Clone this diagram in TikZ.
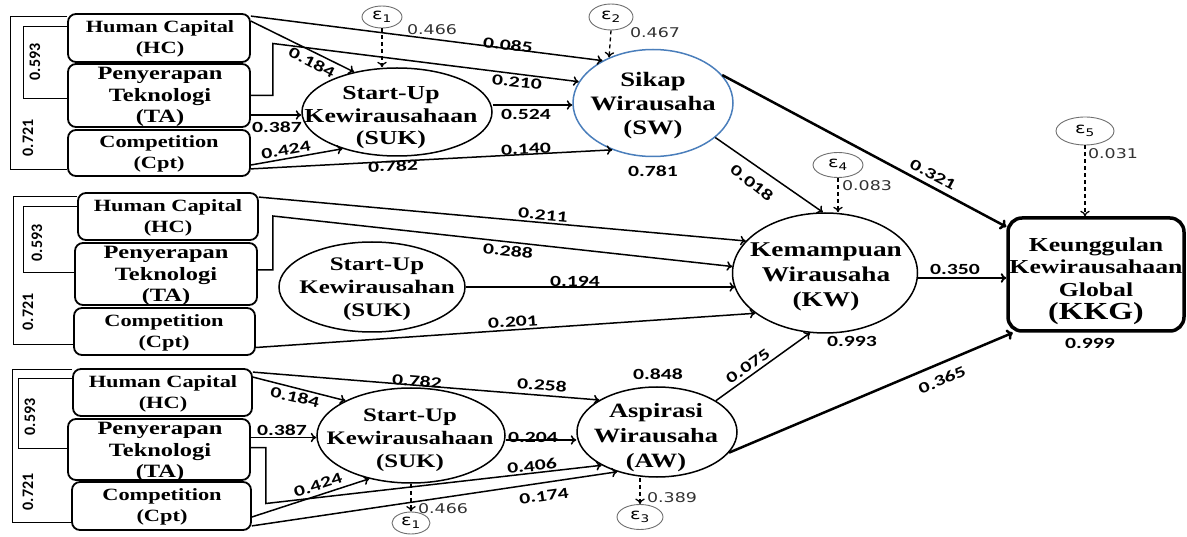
\documentclass[tikz,border=0pt]{standalone}
\usepackage{fontspec}
\setmainfont{Liberation Serif}
\newfontfamily\nf[FakeStretch=1.3]{Liberation Serif}
\newfontfamily\numf[FakeStretch=1.4]{Carlito}
\newfontfamily\resf[FakeStretch=1.3]{DejaVu Sans}
\newfontfamily\brf{Carlito}
\usetikzlibrary{shapes.geometric,arrows.meta,calc}
\definecolor{swblue}{RGB}{74,126,187}
\definecolor{resgray}{RGB}{110,110,110}
\definecolor{numgray}{RGB}{50,50,50}
\begin{document}
\begin{tikzpicture}[x=1pt,y=-1pt,
  box/.style={draw,line width=1.8pt,rounded corners=8pt,inner sep=0pt},
  lat/.style={draw,ellipse,line width=1.5pt,inner sep=0pt},
  res/.style={draw=resgray,ellipse,line width=0.9pt,inner sep=0pt,font=\resf\fontsize{15}{15}\selectfont},
  btxt/.style={align=center,inner sep=0pt,font=\nf\bfseries\fontsize{17.2}{21.5}\selectfont},
  ttxt/.style={align=center,inner sep=0pt,font=\nf\bfseries\fontsize{18.8}{21.5}\selectfont},
  etxt/.style={align=center,inner sep=0pt,font=\nf\bfseries\fontsize{19.8}{22.5}\selectfont},
  coef/.style={inner sep=0pt,font=\numf\bfseries\fontsize{15.5}{16}\selectfont},
  resv/.style={inner sep=0pt,text=numgray,font=\resf\fontsize{13.4}{14}\selectfont},
  brl/.style={inner sep=0pt,rotate=90,font=\brf\bfseries\fontsize{16}{16}\selectfont},
  bracket/.style={line width=1pt},
  arr/.style={line width=1.5pt,-{To[length=5.5pt,width=9.5pt]}},
  thickarr/.style={line width=2.5pt,-{To[length=6pt,width=11pt]}},
  errpath/.style={line width=1.3pt,dash pattern=on 4pt off 3pt,-{To[length=5.5pt,width=9.5pt]}},
]
\useasboundingbox (0,0) rectangle (1187,537);

% ---------------- top group ----------------
\node[box,minimum width=182pt,minimum height=48pt] (hc1) at (159,38) {};
\node[btxt] (hc1t) at (160,39) {Human Capital\\(HC)};
\node[box,minimum width=182pt,minimum height=63pt] (ta1) at (159,95.5) {};
\node[ttxt] (ta1t) at (160,97) {Penyerapan\\Teknologi\\(TA)};
\node[box,minimum width=182pt,minimum height=46pt] (cpt1) at (159,153) {};
\node[btxt] (cpt1t) at (159,154) {Competition\\(Cpt)};

\node[lat,minimum width=190pt,minimum height=88pt] (suk1) at (397,112) {};
\node[etxt] (suk1t) at (391,118) {Start-Up\\Kewirausahaan\\(SUK)};
\node[lat,draw=swblue,minimum width=160pt,minimum height=107pt] (sw) at (653,103) {};
\node[etxt,font=\nf\bfseries\fontsize{20.5}{24}\selectfont] (swt) at (653,106) {Sikap\\Wirausaha\\(SW)};
\node[res,minimum width=40pt,minimum height=22pt] (e1a) at (382,17) {ε\textsubscript{1}};
\node[res,minimum width=44pt,minimum height=26pt] (e2) at (611,17) {ε\textsubscript{2}};

\coordinate (o1t) at (10,17);  \coordinate (o1b) at (10,170);
\coordinate (i1t) at (23,27);  \coordinate (i1b) at (23,99);
\draw[bracket] (hc1.west |- o1t) -- (o1t) -- (o1b) -- (cpt1.west |- o1b);
\draw[bracket] (hc1.west |- i1t) -- (i1t) -- (i1b) -- (ta1.west |- i1b);
\node[brl] (b1a) at (35,62) {0.593};
\node[brl] (b1b) at (28,138) {0.721};

% ---------------- middle group ----------------
\node[box,minimum width=180pt,minimum height=47pt] (hc2) at (168,216.5) {};
\node[btxt] (hc2t) at (168,218) {Human Capital\\(HC)};
\node[box,minimum width=182pt,minimum height=62pt] (ta2) at (166,274) {};
\node[ttxt] (ta2t) at (166,276) {Penyerapan\\Teknologi\\(TA)};
\node[box,minimum width=181pt,minimum height=47pt] (cpt2) at (164.5,331.5) {};
\node[btxt] (cpt2t) at (164,333) {Competition\\(Cpt)};

\node[lat,minimum width=186pt,minimum height=90pt] (suk2) at (372,287) {};
\node[etxt,font=\nf\bfseries\fontsize{19.2}{23}\selectfont] (suk2t) at (377,289) {Start-Up\\Kewirausahan\\(SUK)};
\node[lat,minimum width=185pt,minimum height=120pt] (kw) at (825,273) {};
\node[etxt,font=\nf\bfseries\fontsize{21}{25}\selectfont] (kwt) at (826,277) {Kemampuan\\Wirausaha\\(KW)};
\node[res,minimum width=50pt,minimum height=25pt] (e4) at (838,165) {ε\textsubscript{4}};

\node[box,line width=3.5pt,rounded corners=14pt,minimum width=176pt,minimum height=113pt] (kkg) at (1096,274.5) {};
\node[etxt] (kkgt) at (1096,281) {Keunggulan\\Kewirausahaan\\Global\\[1pt]{\fontsize{24.5}{27}\selectfont(KKG)}};
\node[res,minimum width=58pt,minimum height=28pt] (e5) at (1085,131) {ε\textsubscript{5}};

\coordinate (o2t) at (13,197);  \coordinate (o2b) at (13,345);
\coordinate (i2t) at (23,207);  \coordinate (i2b) at (23,273);
\draw[bracket] (hc2.west |- o2t) -- (o2t) -- (o2b) -- (cpt2.west |- o2b);
\draw[bracket] (hc2.west |- i2t) -- (i2t) -- (i2b) -- (ta2.west |- i2b);
\node[brl] (b2a) at (37,243) {0.593};
\node[brl] (b2b) at (28,312) {0.721};

% ---------------- bottom group ----------------
\node[box,minimum width=179pt,minimum height=47pt] (hc3) at (162.5,392.5) {};
\node[btxt] (hc3t) at (163,394) {Human Capital\\(HC)};
\node[box,minimum width=182pt,minimum height=61pt] (ta3) at (159,449.5) {};
\node[ttxt] (ta3t) at (160,452) {Penyerapan\\Teknologi\\(TA)};
\node[box,minimum width=179pt,minimum height=48pt] (cpt3) at (161.5,506) {};
\node[btxt] (cpt3t) at (162,507) {Competition\\(Cpt)};

\node[lat,minimum width=188pt,minimum height=95pt] (suk3) at (411,435.5) {};
\node[etxt,font=\nf\bfseries\fontsize{19.1}{23}\selectfont] (suk3t) at (410,440) {Start-Up\\Kewirausahaan\\(SUK)};
\node[lat,minimum width=160pt,minimum height=90pt] (aw) at (657,432) {};
\node[etxt,font=\nf\bfseries\fontsize{20.3}{25}\selectfont] (awt) at (656,438) {Aspirasi\\Wirausaha\\(AW)};
\node[res,minimum width=38pt,minimum height=22pt] (e1b) at (411,523) {ε\textsubscript{1}};
\node[res,minimum width=46pt,minimum height=25pt] (e3) at (640,517) {ε\textsubscript{3}};

\coordinate (o3t) at (12,370);  \coordinate (o3b) at (12,522);
\coordinate (i3t) at (18,379);  \coordinate (i3b) at (18,448);
\draw[bracket] (hc3.west |- o3t) -- (o3t) -- (o3b) -- (cpt3.west |- o3b);
\draw[bracket] (hc3.west |- i3t) -- (i3t) -- (i3b) -- (ta3.west |- i3b);
\node[brl] (b3a) at (30,417) {0.593};
\node[brl] (b3b) at (28,492) {0.721};

% ---------------- connectors: top ----------------
\draw[arr] ($(hc1.north east)+(0,3)$) -- (sw.140);
\draw[arr] ($(hc1.north east)+(0,8)$) -- (suk1.137);
\draw[arr] (ta1.east) -- ++(22,0) -- ++(0,-52) -- (sw.164);
\coordinate (p1) at ($(ta1.east)+(0,19.5)$);
\draw[arr] (p1) -- (p1 -| suk1.west);
\draw[arr] ($(cpt1.east)+(0,12)$) -- (suk1.214);
\draw[arr] ($(cpt1.south east)+(0,-8)$) -- (sw.229);
\coordinate (p2) at ($(suk1.east)+(0,-7)$);
\draw[arr] (p2) -- (p2 -| sw.west);
\draw[errpath] (e1a.south) -- (e1a.south |- suk1.north);
\draw[errpath] (e2.south) -- (sw.134);

% ---------------- connectors: middle ----------------
\draw[arr] ($(hc2.north east)+(0,5)$) -- (kw.158);
\draw[arr] ($(ta2.east)+(0,-4)$) -- ++(15,0) -- ++(0,-54) -- (kw.176);
\draw[arr] (suk2.east) -- (suk2.east -| kw.190);
\draw[arr] ($(cpt2.east)+(0,16)$) -- (kw.210);

% ---------------- connectors: bottom ----------------
\draw[arr] ($(hc3.north east)+(0,4)$) -- (aw.151);
\draw[arr] ($(hc3.north east)+(0,9)$) -- (suk3.152);
\coordinate (p3) at ($(ta3.east)+(0,-12)$);
\draw[arr] (p3) -- (p3 -| suk3.west);
\draw[arr] ($(ta3.east)+(0,-2)$) -- ++(15,0) -- ++(0,56) -- (aw.211);
\draw[arr] ($(cpt3.east)+(0,11)$) -- (suk3.226);
\draw[arr] ($(cpt3.south east)+(0,-5)$) -- (aw.225);
\coordinate (p4) at ($(suk3.east)+(0,4.5)$);
\draw[arr] (p4) -- (p4 -| aw.west);
\draw[errpath] (suk3.south) -- (e1b.north);
\draw[errpath] (e3.north |- aw.south) -- (e3.north);

% ---------------- connectors: right ----------------
\draw[thickarr] (sw.22) -- (kkg.152);
\draw[arr] (sw.-29) -- (kw.92);
\coordinate (p5) at ($(kw.east)+(0,5)$);
\draw[arr,line width=1.9pt] (p5) -- (p5 -| kkg.west);
\draw[arr] (aw.28) -- (kw.256);
\draw[thickarr] (aw.-16) -- (kkg.215);
\draw[errpath] (e4.south) -- (e4.south |- kw.north);
\draw[errpath] (e5.south) -- (e5.south |- kkg.north);

% ---------------- coefficient labels ----------------
\node[coef,rotate=-7] (l085) at (508,45) {0.085};
\node[coef,rotate=-27] (l184a) at (312,62) {0.184};
\node[coef,rotate=-6] (l210) at (517,82) {0.210};
\node[coef] (l387a) at (277,127) {0.387};
\node[coef,rotate=10] (l424a) at (286,150) {0.424};
\node[coef] (l524) at (526,114) {0.524};
\node[coef,rotate=2.5] (l140) at (526,149) {0.140};
\node[coef,rotate=2] (l782a) at (393,166) {0.782};
\node[coef] (l781) at (653,171) {0.781};
\node[coef,rotate=-5] (l211) at (543,215) {0.211};
\node[coef,rotate=-6] (l288) at (508,251) {0.288};
\node[coef] (l194) at (575,281) {0.194};
\node[coef,rotate=3.8] (l201) at (513,322) {0.201};
\node[coef,rotate=-4.5] (l258) at (542,385) {0.258};
\node[coef,rotate=-4.5] (l782b) at (417,381) {0.782};
\node[coef,rotate=-13] (l184b) at (295,397) {0.184};
\node[coef] (l387b) at (282,430) {0.387};
\node[coef] (l204) at (533,437) {0.204};
\node[coef,rotate=6] (l406) at (532,466) {0.406};
\node[coef,rotate=18] (l424b) at (318,485) {0.424};
\node[coef,rotate=8] (l174) at (544,496) {0.174};
\node[coef] (l848) at (658,374) {0.848};
\node[coef,rotate=35] (l075) at (748,366) {0.075};
\node[coef] (l993) at (852,341) {0.993};
\node[coef,rotate=23] (l365) at (942,380) {0.365};
\node[coef] (l350) at (955,269) {0.350};
\node[coef,rotate=-28] (l321) at (933,175) {0.321};
\node[coef,rotate=-38] (l018) at (752,183) {0.018};
\node[coef] (l999) at (1090,343) {0.999};

% ---------------- residual values ----------------
\node[resv] (r466a) at (432,30) {0.466};
\node[resv] (r467) at (655,33) {0.467};
\node[resv] (r083) at (867,186) {0.083};
\node[resv] (r031) at (1113,154) {0.031};
\node[resv] (r466b) at (443,509) {0.466};
\node[resv] (r389) at (672,498) {0.389};
\end{tikzpicture}
\end{document}
